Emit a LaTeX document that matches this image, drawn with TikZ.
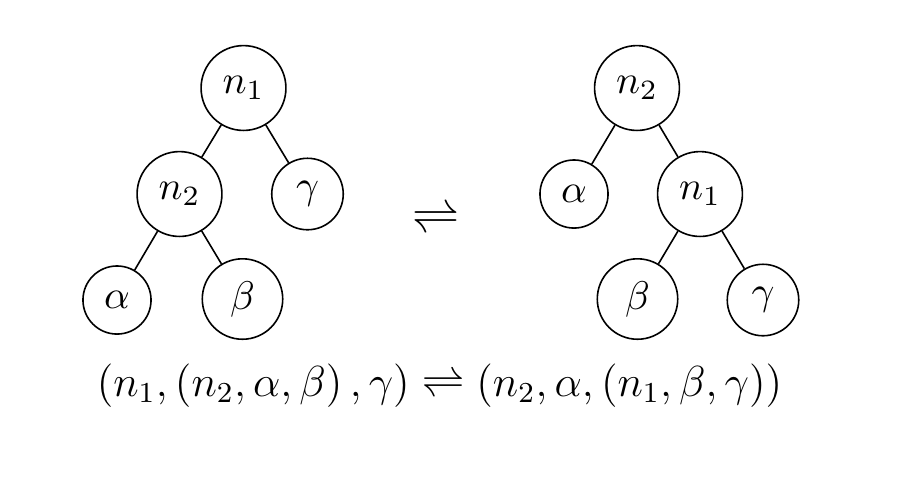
\documentclass[tikz,border=0pt]{standalone}
\usepackage{graphicx}
\begin{document}
\begin{tikzpicture}[x=0.25pt,y=-0.25pt,
  tnode/.style={circle,draw,line width=0.4pt},
  edge/.style={line width=0.4pt}]
\useasboundingbox (0,0) rectangle (898,476);
% left tree
\node[tnode] (la) at (243.5,88) {$n_1$};
\node[tnode] (lb) at (179.5,194) {$n_2$};
\node[tnode] (lg) at (307.5,194) {$\gamma$};
\node[tnode] (lal) at (117,300) {$\alpha$};
\node[tnode] (lbe) at (242.5,299) {$\beta$};
\draw[edge] (la) -- (lb);
\draw[edge] (la) -- (lg);
\draw[edge] (lb) -- (lal);
\draw[edge] (lb) -- (lbe);
% right tree
\node[tnode] (ra) at (637,88) {$n_2$};
\node[tnode] (ral) at (574,194) {$\alpha$};
\node[tnode] (rb) at (700,194) {$n_1$};
\node[tnode] (rbe) at (637.5,299) {$\beta$};
\node[tnode] (rg) at (763,300) {$\gamma$};
\draw[edge] (ra) -- (ral);
\draw[edge] (ra) -- (rb);
\draw[edge] (rb) -- (rbe);
\draw[edge] (rb) -- (rg);
% arrow
\node (arr) at (435.5,220) {\large$\rightleftharpoons$};
% formula
\node[anchor=base] (form) at (439.5,396) {\scalebox{0.905}{\large$\left(n_1,\left(n_2,\alpha,\beta\right),\gamma\right)\rightleftharpoons\left(n_2,\alpha,\left(n_1,\beta,\gamma\right)\right)$}};
\end{tikzpicture}
\end{document}
